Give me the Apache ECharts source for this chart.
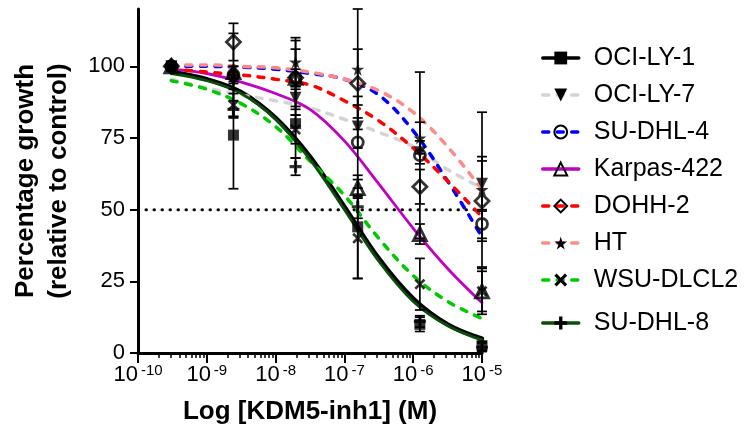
<!DOCTYPE html>
<html>
<head>
<meta charset="utf-8">
<script src="https://cdn.jsdelivr.net/npm/echarts@6/dist/echarts.min.js"></script>
<style>
  html, body { margin: 0; padding: 0; background: #ffffff; }
  #chart { width: 749px; height: 432px; }
</style>
</head>
<body>
<div id="chart"></div>
<script>
const FONT = '"Liberation Sans", Arial, Helvetica, sans-serif';

// Cell lines, in legend order
const cellLines = ['OCI-LY-1', 'OCI-LY-7', 'SU-DHL-4', 'Karpas-422', 'DOHH-2', 'HT', 'WSU-DLCL2', 'SU-DHL-8'];

// Tested concentrations (M), 8-fold dilution series
const doses = [3.05e-10, 2.44e-9, 1.95e-8, 1.5625e-7, 1.25e-6, 1e-5];
// Concentrations at which the fitted curves are sampled (M)
const fitDoses = [3.05e-10, 1e-9, 3.16e-9, 1e-8, 3.16e-8, 1e-7, 3.16e-7, 1e-6, 3.16e-6, 1e-5];

const yTicks = [0, 25, 50, 75, 100];
const halfMaxLevel = 50;

// Mean growth (% of control), error (+/-) and fitted curve per cell line
const ociLy1Mean = [100, 76, 80, 44, 10, 2.5];
const ociLy1Err  = [0, 18.7, 12, 18, 2.5, 1.5];
const ociLy1Fit  = [98, 95.5, 91, 82, 68.5, 51, 33, 19, 10, 5];

const ociLy7Mean = [100, 95, 89, 79, 70, 59];
const ociLy7Err  = [0, 3, 4, 7.5, 4, 9.5];
const ociLy7Fit  = [95.5, 92.5, 90, 88, 85.5, 81.5, 77, 72, 64, 57.5];

const suDhl4Mean = [100, 97, 96, 73.5, 69, 45];
const suDhl4Err  = [0, 3, 10, 16, 29, 5];
const suDhl4Fit  = [100, 100, 99.7, 99, 97.5, 95.5, 90, 77.5, 60, 40.5];

const karpasMean = [100, 98, 96, 57.5, 41.5, 21.5];
const karpasErr  = [0, 2, 3, 3, 3.5, 7];
const karpasFit  = [99, 97.5, 94.5, 90.5, 85, 74, 59, 43.5, 29.5, 17.5];

const dohh2Mean = [100, 108.5, 96, 94, 58, 53];
const dohh2Err  = [0, 6.5, 13, 12, 6, 14];
const dohh2Fit  = [99, 98, 97, 95.5, 93.5, 88, 81, 71.5, 60, 47.5];

const htMean = [100, 97, 101.5, 99, 75, 57];
const htErr  = [0, 14.5, 8.5, 21, 5.5, 27];
const htFit  = [100.5, 100.5, 100, 99.5, 98, 95.5, 91.5, 84, 72, 57];

const wsuMean = [100, 86.5, 78, 40, 24, 21.5];
const wsuErr  = [0, 4, 5, 14, 9, 8];
const wsuFit  = [95, 92, 87, 79, 67, 55, 40, 27, 18, 12];

const suDhl8Mean = [100, 85, 65, 51, 11, 2];
const suDhl8Err  = [0, 3, 3, 4, 2, 1.5];
const suDhl8Fit  = [97.5, 95, 90.5, 81.5, 67.5, 50, 32, 18, 9.5, 4.5];

const measured = {
  'OCI-LY-1':   { mean: ociLy1Mean, err: ociLy1Err, fit: ociLy1Fit },
  'OCI-LY-7':   { mean: ociLy7Mean, err: ociLy7Err, fit: ociLy7Fit },
  'SU-DHL-4':   { mean: suDhl4Mean, err: suDhl4Err, fit: suDhl4Fit },
  'Karpas-422': { mean: karpasMean, err: karpasErr, fit: karpasFit },
  'DOHH-2':     { mean: dohh2Mean,  err: dohh2Err,  fit: dohh2Fit },
  'HT':         { mean: htMean,     err: htErr,     fit: htFit },
  'WSU-DLCL2':  { mean: wsuMean,    err: wsuErr,    fit: wsuFit },
  'SU-DHL-8':   { mean: suDhl8Mean, err: suDhl8Err, fit: suDhl8Fit }
};

// Marker shapes
const STAR = 'path://M50,0 L61,35 L98,35 L68,57 L79,91 L50,70 L21,91 L32,57 L2,35 L39,35 Z';
const CROSS = 'path://M0,17 L17,0 L50,33 L83,0 L100,17 L67,50 L100,83 L83,100 L50,67 L17,100 L0,83 L33,50 Z';
const PLUS = 'path://M37,0 H63 V37 H100 V63 H63 V100 H37 V63 H0 V37 H37 Z';
const DOWN_TRIANGLE = 'path://M0,0 L100,0 L50,88 Z';

const DASH = [6, 8.5];
const looks = {
  'OCI-LY-1':   { line: '#000000', dash: 'solid', width: 4.5, symbol: 'rect', size: 11, hollow: false },
  'OCI-LY-7':   { line: '#d4d4d4', dash: DASH, width: 3.5, symbol: DOWN_TRIANGLE, size: 12, hollow: false },
  'SU-DHL-4':   { line: '#0000ff', dash: DASH, width: 3.5, symbol: 'circle', size: 11, hollow: true },
  'Karpas-422': { line: '#bf00bf', dash: 'solid', width: 2.8, symbol: 'triangle', size: 13, hollow: true },
  'DOHH-2':     { line: '#ff0000', dash: DASH, width: 3.5, symbol: 'diamond', size: 14, hollow: true },
  'HT':         { line: '#ff8a8a', dash: DASH, width: 3.5, symbol: STAR, size: 13, hollow: false },
  'WSU-DLCL2':  { line: '#00c800', dash: DASH, width: 3.5, symbol: CROSS, size: 11, hollow: false },
  'SU-DHL-8':   { line: '#0b4d0b', dash: 'solid', width: 2.8, symbol: PLUS, size: 12, hollow: false }
};

function markerStyle(look) {
  return look.hollow
    ? { color: 'transparent', borderColor: '#000000', borderWidth: 2.8 }
    : { color: '#000000', borderColor: '#000000', borderWidth: 0 };
}

function errorBarItem(params, api) {
  const x = api.value(0);
  const lo = api.value(1);
  const hi = api.value(2);
  const top = api.coord([x, hi]);
  const bottom = api.coord([x, lo]);
  const hw = 5;
  const style = { stroke: '#000000', lineWidth: 1.7 };
  return {
    type: 'group',
    children: [
      { type: 'line', shape: { x1: top[0], y1: top[1], x2: bottom[0], y2: bottom[1] }, style },
      { type: 'line', shape: { x1: top[0] - hw, y1: top[1], x2: top[0] + hw, y2: top[1] }, style },
      { type: 'line', shape: { x1: bottom[0] - hw, y1: bottom[1], x2: bottom[0] + hw, y2: bottom[1] }, style }
    ]
  };
}

const series = [];

// Half-maximal reference line
series.push({
  name: 'half',
  type: 'line',
  data: [[1e-10, halfMaxLevel], [1e-5, halfMaxLevel]],
  symbol: 'none',
  silent: true,
  z: 1,
  lineStyle: { color: '#000000', width: 3, type: [0.5, 7.5], cap: 'round' }
});

// Fitted dose–response curves (also carry the legend icon)
cellLines.forEach((name) => {
  const look = looks[name];
  const d = measured[name];
  series.push({
    name,
    type: 'line',
    data: fitDoses.map((x, i) => [x, d.fit[i]]),
    smooth: 0.35,
    showSymbol: false,
    symbol: look.symbol,
    symbolSize: look.size,
    z: 2,
    itemStyle: markerStyle(look),
    lineStyle: { color: look.line, width: look.width, type: look.dash, cap: 'round' },
    emphasis: { disabled: true }
  });
});

// Error bars
cellLines.forEach((name) => {
  const d = measured[name];
  const bars = [];
  doses.forEach((x, i) => {
    if (d.err[i] > 0) bars.push([x, d.mean[i] - d.err[i], d.mean[i] + d.err[i]]);
  });
  series.push({
    name: name + ' error',
    type: 'custom',
    renderItem: errorBarItem,
    encode: { x: 0, y: [1, 2] },
    data: bars,
    z: 3,
    silent: true
  });
});

// Measured means
cellLines.forEach((name) => {
  const look = looks[name];
  const d = measured[name];
  series.push({
    name: name + ' points',
    type: 'scatter',
    data: doses.map((x, i) => [x, d.mean[i]]),
    symbol: look.symbol,
    symbolSize: look.size,
    itemStyle: markerStyle(look),
    z: 4,
    silent: true
  });
});

// Legend entries; the last one sits a little lower
const legendText = { fontFamily: FONT, fontSize: 25, color: '#000000', lineHeight: 28, padding: [0, 0, 0, 10] };
const legendItems = cellLines.map((name, i) => (
  i === cellLines.length - 1
    ? { name, textStyle: { padding: [6, 0, 6, 10] } }
    : { name }
));

const chart = echarts.init(document.getElementById('chart'), null, { renderer: 'canvas' });
chart.setOption({
  animation: false,
  backgroundColor: '#ffffff',
  textStyle: { fontFamily: FONT, color: '#000000' },
  grid: { left: 138, right: 267, top: 9, bottom: 79, containLabel: false },
  legend: {
    data: legendItems,
    orient: 'vertical',
    left: 536,
    top: 39,
    itemWidth: 36,
    itemHeight: 16,
    itemGap: 9,
    selectedMode: false,
    lineStyle: { width: 3.5 },
    textStyle: legendText
  },
  xAxis: {
    type: 'log',
    logBase: 10,
    min: 1e-10,
    max: 1e-5,
    name: 'Log [KDM5-inh1] (M)',
    nameLocation: 'middle',
    nameGap: 46,
    nameTextStyle: { fontFamily: FONT, fontSize: 26, fontWeight: 'bold', color: '#000000' },
    axisLine: { lineStyle: { color: '#000000', width: 3 } },
    axisTick: { length: 10, lineStyle: { color: '#000000', width: 2 } },
    minorTick: { show: true, splitNumber: 9, length: 5, lineStyle: { color: '#000000', width: 1.5 } },
    splitLine: { show: false },
    minorSplitLine: { show: false },
    axisLabel: {
      margin: 10,
      showMinLabel: true,
      showMaxLabel: true,
      formatter: (v) => '{b|10}{s|' + Math.round(Math.log10(v)) + '}',
      rich: {
        b: { fontFamily: FONT, fontSize: 22, color: '#000000', lineHeight: 24 },
        s: { fontFamily: FONT, fontSize: 15, color: '#000000', verticalAlign: 'top', lineHeight: 15, padding: [0, 0, 0, 3] }
      }
    }
  },
  yAxis: {
    type: 'value',
    min: 0,
    max: 120,
    interval: 25,
    name: 'Percentage growth\n(relative to control)',
    nameLocation: 'middle',
    nameRotate: 90,
    nameGap: 63,
    nameTextStyle: { fontFamily: FONT, fontSize: 26, fontWeight: 'bold', color: '#000000', lineHeight: 33 },
    axisLine: { show: true, lineStyle: { color: '#000000', width: 3 } },
    axisTick: { show: true, length: 8, customValues: yTicks, lineStyle: { color: '#000000', width: 2 } },
    splitLine: { show: false },
    axisLabel: { customValues: yTicks, margin: 13, fontFamily: FONT, fontSize: 22, color: '#000000' }
  },
  series
});
</script>
</body>
</html>
